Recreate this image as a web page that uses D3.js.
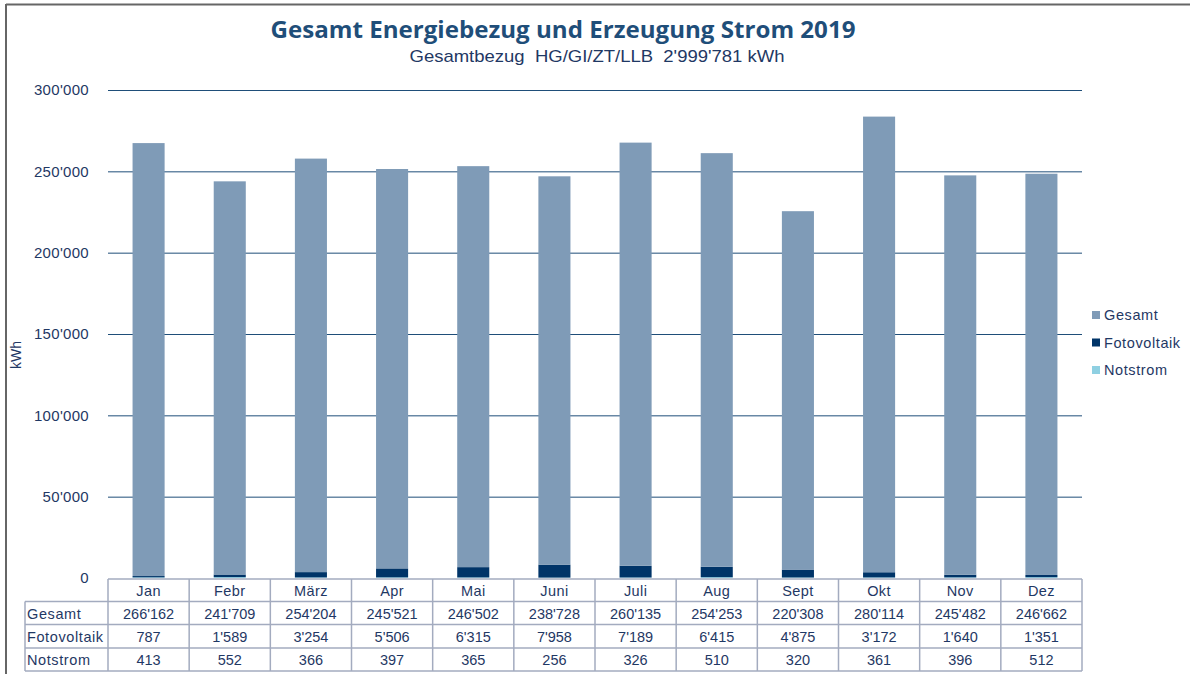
<!DOCTYPE html>
<html lang="de">
<head>
    <meta charset="UTF-8">
    <title>Gesamt Energiebezug und Erzeugung Strom 2019</title>
    <script src="https://cdnjs.cloudflare.com/ajax/libs/d3/7.8.5/d3.min.js"></script>
    <style>
        body { margin: 0; background: #fff; }
        svg { display: block; font-family: "Liberation Sans", Arial, sans-serif; }
    </style>
</head>
<body>
<svg id="chart" width="1190" height="674"></svg>
<script>
    // data
    const months = ["Jan", "Febr", "März", "Apr", "Mai", "Juni", "Juli", "Aug", "Sept", "Okt", "Nov", "Dez"];
    const gesamt = [266162, 241709, 254204, 245521, 246502, 238728, 260135, 254253, 220308, 280114, 245482, 246662];
    const fotovoltaik = [787, 1589, 3254, 5506, 6315, 7958, 7189, 6415, 4875, 3172, 1640, 1351];
    const notstrom = [413, 552, 366, 397, 365, 256, 326, 510, 320, 361, 396, 512];
    const yTicks = [0, 50000, 100000, 150000, 200000, 250000, 300000];

    const seriesNames = ["Gesamt", "Fotovoltaik", "Notstrom"];
    const colors = { Gesamt: "#7f9bb7", Fotovoltaik: "#003468", Notstrom: "#8fd0e2" };
    const textColor = "#1f3864";
    const lineColor = "#1f4e79";
    const tableLine = "#a3abbf";

    const loc = d3.formatLocale({ decimal: ".", thousands: "'", grouping: [3], currency: ["", ""] });
    const fmt = loc.format(",d");

    const svg = d3.select("#chart");

    // frame (only top + left edge visible)
    svg.append("line").attr("x1", 6).attr("x2", 1190).attr("y1", 4.5).attr("y2", 4.5)
        .attr("stroke", "#666").attr("stroke-width", 2);
    svg.append("line").attr("x1", 6).attr("x2", 6).attr("y1", 4).attr("y2", 674)
        .attr("stroke", "#666").attr("stroke-width", 2);

    // titles
    svg.append("text").attr("x", 563).attr("y", 38).attr("text-anchor", "middle")
        .attr("font-family", "'Open Sans', 'Noto Sans', sans-serif").attr("font-weight", "bold")
        .attr("font-size", 23).attr("fill", "#1f4e79")
        .attr("textLength", 585).attr("lengthAdjust", "spacingAndGlyphs")
        .text("Gesamt Energiebezug und Erzeugung Strom 2019");
    svg.append("text").attr("x", 597).attr("y", 62).attr("text-anchor", "middle")
        .attr("font-size", 17).attr("fill", textColor)
        .attr("textLength", 375).attr("lengthAdjust", "spacingAndGlyphs")
        .style("white-space", "pre")
        .text("Gesamtbezug  HG/GI/ZT/LLB  2'999'781 kWh");

    const plotLeft = 108, plotRight = 1082, plotTop = 90, plotBottom = 578;

    const x = d3.scaleBand().domain(months).range([plotLeft, plotRight]).paddingInner(0.605).paddingOuter(0.3025);
    const xCell = d3.scaleBand().domain(months).range([plotLeft, plotRight]);
    const y = d3.scaleLinear().domain([0, 300000]).range([plotBottom, plotTop]);

    // gridlines + y labels
    const yAxis = d3.axisLeft(y).tickValues(yTicks).tickFormat(fmt).tickSize(-(plotRight - plotLeft)).tickPadding(19);
    const ga = svg.append("g").attr("transform", `translate(${plotLeft},0)`).call(yAxis);
    ga.select(".domain").remove();
    ga.selectAll(".tick line").attr("stroke", lineColor).attr("stroke-width", 1)
        .attr("display", d => d === 0 ? "none" : null);
    ga.selectAll(".tick text").attr("fill", textColor).attr("font-size", 15)
        .attr("letter-spacing", 0.3)
        .attr("font-family", "'Liberation Sans', Arial, sans-serif");

    svg.append("text").attr("transform", "translate(21,355) rotate(-90)")
        .attr("text-anchor", "middle").attr("font-size", 14).attr("fill", textColor).text("kWh");

    // stacked bars: Notstrom bottom, Fotovoltaik, Gesamt top
    const rows = months.map((m, i) => ({ month: m, Gesamt: gesamt[i], Fotovoltaik: fotovoltaik[i], Notstrom: notstrom[i] }));
    const stack = d3.stack().keys(["Notstrom", "Fotovoltaik", "Gesamt"]);
    const layers = stack(rows);

    svg.append("g").selectAll("g").data(layers).join("g")
        .attr("fill", d => colors[d.key])
        .selectAll("rect").data(d => d).join("rect")
        .attr("x", d => x(d.data.month))
        .attr("width", x.bandwidth())
        .attr("y", d => y(d[1]))
        .attr("height", d => y(d[0]) - y(d[1]));

    // data table
    const rowTops = [579, 601.5, 624.5, 648, 671];
    const labelLeft = 25;
    const tg = svg.append("g").attr("fill", textColor).attr("font-size", 14.5);

    // horizontal lines
    tg.append("line").attr("x1", plotLeft).attr("x2", plotRight).attr("y1", rowTops[0]).attr("y2", rowTops[0]);
    for (let r = 1; r < rowTops.length; r++) {
        tg.append("line").attr("x1", labelLeft).attr("x2", plotRight).attr("y1", rowTops[r]).attr("y2", rowTops[r]);
    }
    // vertical lines
    tg.append("line").attr("x1", labelLeft).attr("x2", labelLeft).attr("y1", rowTops[1]).attr("y2", rowTops[4]);
    months.forEach(m => {
        tg.append("line").attr("x1", xCell(m)).attr("x2", xCell(m)).attr("y1", rowTops[0]).attr("y2", rowTops[4]);
    });
    tg.append("line").attr("x1", plotRight).attr("x2", plotRight).attr("y1", rowTops[0]).attr("y2", rowTops[4]);
    tg.selectAll("line").attr("stroke", tableLine).attr("stroke-width", 1.5);

    // month header
    tg.selectAll("text.month").data(months).join("text").attr("class", "month")
        .attr("x", d => xCell(d) + xCell.bandwidth() / 2).attr("y", 596)
        .attr("letter-spacing", 0.4)
        .attr("text-anchor", "middle").text(d => d);

    const tableSeries = [gesamt, fotovoltaik, notstrom];
    seriesNames.forEach((name, r) => {
        const by = rowTops[r + 1] + 17;
        tg.append("text").attr("x", labelLeft + 2).attr("y", by).attr("letter-spacing", 0.6).text(name);
        tg.selectAll(null).data(tableSeries[r]).join("text")
            .attr("x", (d, i) => xCell(months[i]) + xCell.bandwidth() / 2).attr("y", by)
            .attr("text-anchor", "middle").text(d => fmt(d));
    });

    // legend
    const lg = svg.append("g").attr("transform", "translate(1092,308)");
    seriesNames.forEach((name, i) => {
        const g = lg.append("g").attr("transform", `translate(0,${i * 27.5})`);
        g.append("rect").attr("width", 8).attr("height", 8).attr("y", 3).attr("fill", colors[name]);
        g.append("text").attr("x", 12).attr("y", 12).attr("font-size", 14.5).attr("letter-spacing", 0.6)
            .attr("fill", textColor).text(name);
    });
</script>
</body>
</html>
